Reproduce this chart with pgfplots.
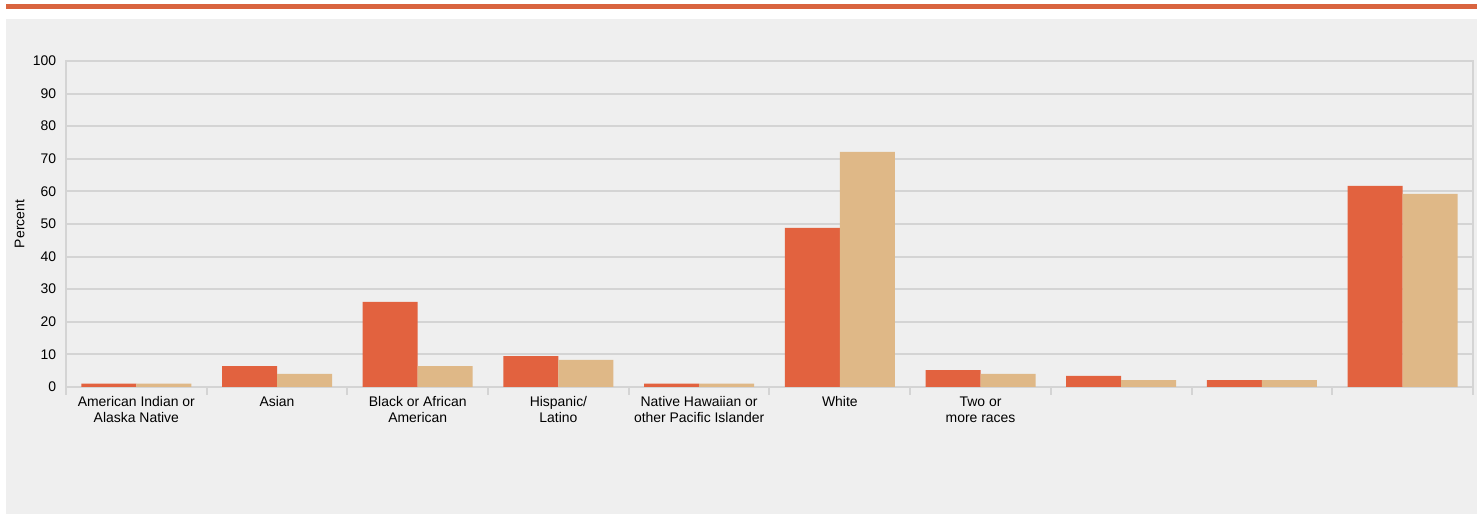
\documentclass[border=0pt]{standalone}
\usepackage{pgfplots}
\pgfplotsset{compat=1.18}
\usepackage{fontspec}
\setmainfont{Liberation Sans}
\definecolor{barA}{HTML}{E2623F}
\definecolor{barB}{HTML}{DFB887}
\definecolor{topbar}{HTML}{D9643F}
\definecolor{panel}{HTML}{EFEFEF}
\definecolor{gridc}{HTML}{D4D4D4}
\begin{document}
\begin{tikzpicture}[x=1bp,y=1bp]
\fill[white] (0,0) rectangle (1477,514);
\fill[topbar] (6,505) rectangle (1477,510);
\fill[panel] (6,0) rectangle (1477,495);
\begin{axis}[
  at={(66bp,127bp)}, anchor=south west,
  scale only axis, width=1407bp, height=326bp,
  xmin=-0.5, xmax=9.5, ymin=0, ymax=100,
  ytick={0,10,...,100},
  xtick={0,...,9},
  minor xtick={-0.5,0.5,...,9.5},
  xtick pos=bottom, ytick pos=left,
  xticklabels={{American Indian or\\Alaska Native},{Asian},{Black or African\\American},{Hispanic/\\Latino},{Native Hawaiian or\\other Pacific Islander},{White},{Two or\\more races},{},{},{}},
  xticklabel style={align=center, font=\fontsize{14}{16}\selectfont, anchor=north, yshift=-2bp},
  yticklabel style={font=\fontsize{14}{16}\selectfont, xshift=-2bp},
  /pgf/number format/assume math mode=true,
  major x tick style={draw=none},
  minor x tick style={draw=gridc, line width=2bp},
  minor tick length=8bp,
  tick align=outside,
  ytick style={draw=none},
  ymajorgrids, major grid style={gridc, line width=2bp},
  axis line style={gridc, line width=2bp},
  ylabel={Percent}, ylabel style={font=\fontsize{14}{16}\selectfont, at={(-38bp,0.5)}, anchor=south},
  ybar, bar width=55bp,
  clip=false,
  enlarge x limits=false,
]
\addplot[fill=barA, draw=none, bar shift=-27.5bp] coordinates {(0,1) (1,6.4) (2,26.1) (3,9.5) (4,1) (5,48.8) (6,5.2) (7,3.4) (8,2.1) (9,61.7)};
\addplot[fill=barB, draw=none, bar shift=27.5bp] coordinates {(0,1) (1,4.0) (2,6.4) (3,8.3) (4,1) (5,72.1) (6,4.0) (7,2.1) (8,2.1) (9,59.2)};
\end{axis}
\end{tikzpicture}
\end{document}
